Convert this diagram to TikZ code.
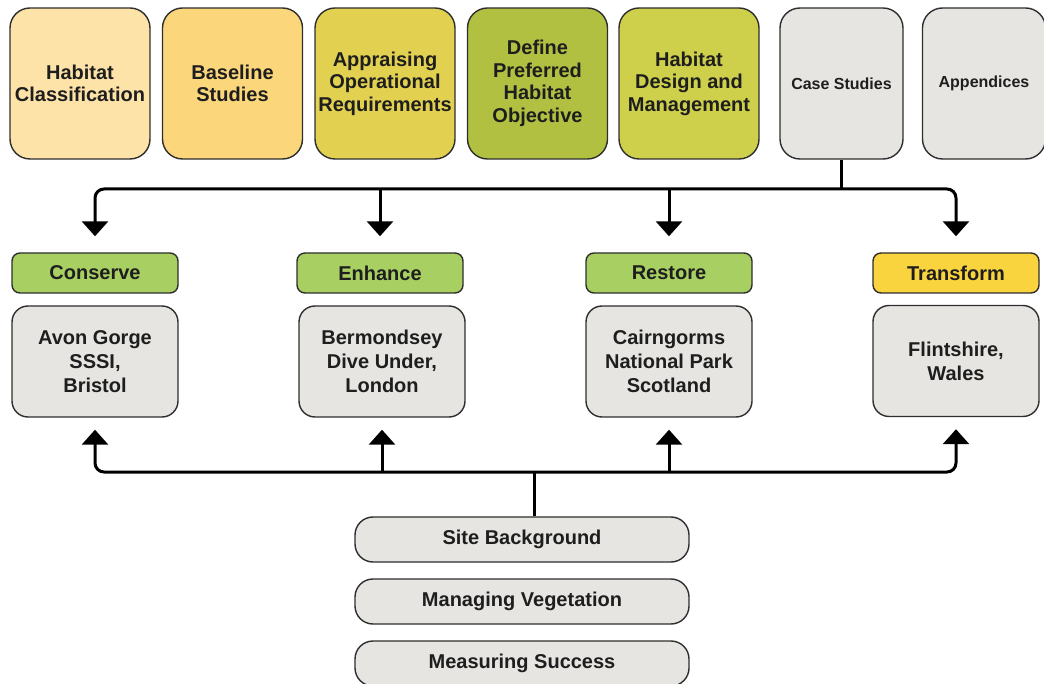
\documentclass[tikz,border=0pt]{standalone}
\usepackage{fontspec}
\setmainfont{Liberation Sans}
\usetikzlibrary{arrows.meta,calc}
\definecolor{cA}{HTML}{FDE3A8}
\definecolor{cB}{HTML}{FBD67B}
\definecolor{cC}{HTML}{E2D150}
\definecolor{cD}{HTML}{B2C042}
\definecolor{cE}{HTML}{CED04B}
\definecolor{cgrey}{HTML}{E6E5E2}
\definecolor{cgreen}{HTML}{A7CF62}
\definecolor{cyellow}{HTML}{FAD43F}
\definecolor{cborder}{HTML}{2E2E2E}
\definecolor{ctext}{HTML}{1E1E1E}
\tikzset{
  base/.style={draw=cborder, line width=1.4pt, text=ctext, align=center, inner sep=0pt,
    font=\bfseries\fontsize{20}{22.5}\selectfont},
  topbox/.style={base, minimum width=140pt, minimum height=151pt, rounded corners=20pt},
  greytop/.style={base, fill=cgrey, minimum width=123pt, minimum height=151pt, rounded corners=20pt,
    font=\bfseries\fontsize{16}{19}\selectfont},
  tag/.style={base, minimum width=166pt, minimum height=40pt, rounded corners=8pt},
  site/.style={base, fill=cgrey, minimum width=166pt, minimum height=111pt, rounded corners=16pt,
    font=\bfseries\fontsize{20}{24}\selectfont},
  pill/.style={base, fill=cgrey, minimum width=334pt, minimum height=45pt, rounded corners=18pt},
  conn/.style={line width=3pt, black},
  tip/.style={-{Triangle[width=26pt,length=15pt]}},
}
\begin{document}
\begin{tikzpicture}[x=1pt,y=-1pt]
\useasboundingbox (0,0) rectangle (1044,684);
\clip (0,0) rectangle (1044,684);
% top row
\node[topbox, fill=cA] (hc) at (80,83.5) {Habitat\\Classification};
\node[topbox, fill=cB] (bs) at (232.5,83.5) {Baseline\\Studies};
\node[topbox, fill=cC] (ao) at (385,83.5) {Appraising\\Operational\\Requirements};
\node[topbox, fill=cD] (dp) at (537.5,83.5) {Define\\Preferred\\Habitat\\Objective};
\node[topbox, fill=cE] (hd) at (689,83.5) {Habitat\\Design and\\Management};
\node[greytop] (cs) at (841.5,83.5) {Case Studies};
\node[greytop] (ap) at (984,83.5) {Appendices};
% tags
\node[tag, fill=cgreen] (con) at (95,273) {Conserve};
\node[tag, fill=cgreen] (enh) at (380,273) {Enhance};
\node[tag, fill=cgreen] (res) at (669,273) {Restore};
\node[tag, fill=cyellow] (tra) at (956,273) {Transform};
% sites
\node[site] (avon) at (95,361.5) {Avon Gorge\\SSSI,\\Bristol};
\node[site] (berm) at (382,361.5) {Bermondsey\\Dive Under,\\London};
\node[site] (cair) at (669,361.5) {Cairngorms\\National Park\\Scotland};
\node[site] (flin) at (956,361) {Flintshire,\\Wales};
% bottom
\node[pill] (sb) at (522,539.5) {Site Background};
\node[pill] (mv) at (522,601.5) {Managing Vegetation};
\node[pill] (ms) at (522,663.5) {Measuring Success};
% top connectors
\coordinate (tb) at (843,189);
\draw[conn] (cs.south) -- (cs.south |- tb);
\draw[conn, rounded corners=9pt, {Triangle[width=26pt,length=15pt]}-{Triangle[width=26pt,length=15pt]},
  shorten <=16pt, shorten >=16pt] (con.north) |- (tb) -| (tra.north);
\draw[conn, tip, shorten >=16pt] (enh.north |- tb) -- (enh.north);
\draw[conn, tip, shorten >=16pt] (res.north |- tb) -- (res.north);
% bottom connectors
\coordinate (bb) at (534,472);
\draw[conn] ($(sb.north)+(12,0)$) -- (bb);
\draw[conn, rounded corners=9pt, {Triangle[width=26pt,length=15pt]}-{Triangle[width=26pt,length=15pt]},
  shorten <=12pt, shorten >=12pt] (avon.south) |- (bb) -| (flin.south);
\draw[conn, tip, shorten >=12pt] (berm.south |- bb) -- (berm.south);
\draw[conn, tip, shorten >=12pt] (cair.south |- bb) -- (cair.south);
\end{tikzpicture}
\end{document}
